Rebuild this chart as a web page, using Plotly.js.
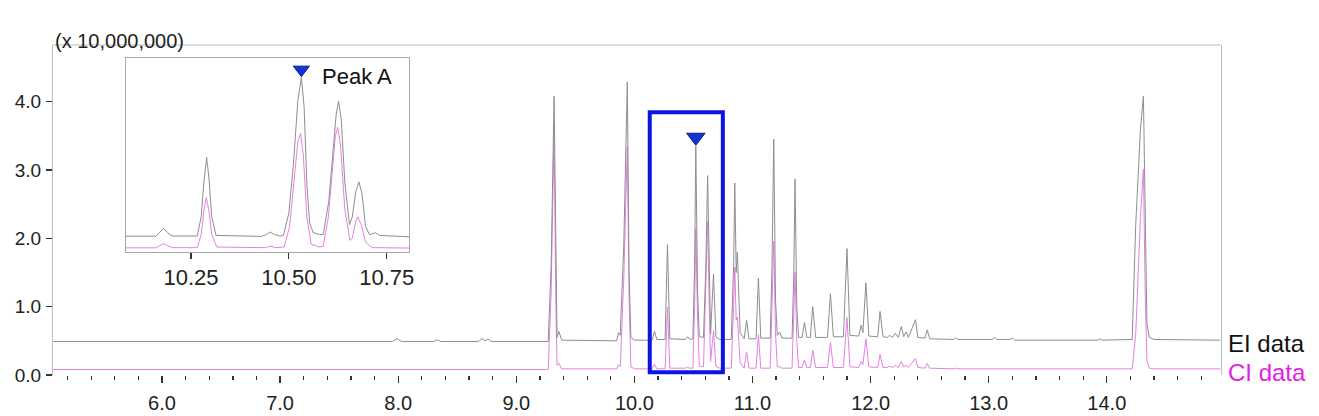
<!DOCTYPE html>
<html>
<head>
<meta charset="utf-8">
<script src="https://cdn.plot.ly/plotly-3.0.1.min.js"></script>
<style>html,body{margin:0;padding:0;background:#fff;}#chart{width:1319px;height:416px;}</style>
</head>
<body>
<div id="chart"></div>
<script>
// ---------- main chromatogram (retention time, min; intensity x 10,000,000) ----------
var rt = [5.08,7.95,7.99,8.03,8.30,8.33,8.36,8.68,8.71,8.735,8.76,8.79,
  9.27,9.295,9.32,9.335,9.345,9.36,9.385,
  9.85,9.865,9.88,9.91,9.94,9.955,9.97,10.00,
  10.15,10.17,10.19,10.26,10.28,10.30,10.43,10.45,10.47,
  10.495,10.51,10.52,10.535,10.55,10.585,10.605,10.62,10.635,10.645,10.67,10.69,10.72,
  10.82,10.84,10.85,10.862,10.872,10.895,10.93,10.95,10.97,
  11.03,11.05,11.07,11.15,11.165,11.18,11.195,11.21,11.23,11.25,
  11.335,11.35,11.36,11.375,11.39,11.42,11.44,11.46,11.49,11.51,11.535,
  11.635,11.66,11.685,11.77,11.80,11.825,11.90,11.92,11.935,11.96,11.985,
  12.06,12.08,12.105,12.14,12.16,12.185,12.21,12.235,12.26,12.28,12.30,12.32,
  12.38,12.40,12.46,12.48,12.50,12.70,12.72,12.74,13.03,13.05,13.07,13.18,13.20,13.22,
  13.92,13.94,13.96,14.215,14.245,14.27,14.285,14.31,14.325,14.34,14.36,14.40,14.96];
var eiData = [0.49,0.49,0.53,0.49,0.49,0.515,0.49,0.49,0.535,0.50,0.525,0.49,
  0.49,1.60,4.08,1.40,0.55,0.64,0.51,
  0.50,0.62,0.58,1.90,4.29,1.50,0.55,0.51,
  0.51,0.64,0.52,0.52,1.91,0.53,0.52,0.56,0.52,
  0.53,1.60,3.35,1.20,0.56,0.55,1.60,2.92,1.20,0.60,1.48,0.56,0.52,
  0.52,1.60,2.81,1.50,1.80,0.62,0.53,0.80,0.53,
  0.53,1.42,0.54,0.54,1.60,3.45,1.10,0.58,0.63,0.54,
  0.54,1.50,2.87,1.00,0.55,0.55,0.77,0.55,0.55,1.00,0.55,
  0.55,1.19,0.56,0.56,1.85,0.58,0.57,0.73,0.62,1.35,0.57,
  0.56,0.93,0.56,0.55,0.58,0.55,0.61,0.55,0.71,0.56,0.63,0.55,
  0.81,0.55,0.54,0.66,0.53,0.52,0.545,0.52,0.52,0.55,0.52,0.52,0.545,0.51,
  0.51,0.53,0.51,0.52,2.20,3.10,3.60,4.08,2.00,0.75,0.55,0.52,0.51];
var ciData = [0.08,0.08,0.085,0.08,0.08,0.08,0.08,0.08,0.09,0.08,0.085,0.08,
  0.08,1.20,3.56,1.00,0.14,0.17,0.09,
  0.09,0.15,0.12,1.40,3.35,1.10,0.12,0.09,
  0.09,0.16,0.09,0.09,0.99,0.10,0.10,0.11,0.10,
  0.10,1.00,2.14,0.80,0.13,0.12,1.30,2.24,0.90,0.20,0.65,0.13,0.10,
  0.10,1.00,1.58,0.80,0.85,0.18,0.10,0.34,0.10,
  0.10,0.59,0.10,0.10,1.00,1.96,0.60,0.12,0.12,0.10,
  0.10,0.90,1.51,0.50,0.11,0.11,0.22,0.11,0.11,0.36,0.11,
  0.11,0.48,0.11,0.11,0.84,0.12,0.11,0.20,0.15,0.53,0.12,
  0.11,0.30,0.11,0.11,0.13,0.11,0.14,0.11,0.20,0.12,0.14,0.11,
  0.24,0.11,0.10,0.17,0.10,0.09,0.10,0.09,0.09,0.10,0.09,0.09,0.10,0.09,
  0.09,0.09,0.09,0.09,0.60,1.58,2.30,3.01,1.20,0.20,0.10,0.09,0.09];

// ---------- inset (zoom of 10.08 - 10.81 min; relative intensity) ----------
var insetRtEI = [10.084,10.160,10.170,10.180,10.190,10.202,10.266,10.276,10.283,10.290,10.296,10.303,10.314,
  10.430,10.443,10.453,10.463,10.478,10.486,10.500,10.512,10.523,10.532,10.539,10.546,10.553,10.562,10.578,
  10.588,10.602,10.613,10.621,10.627,10.634,10.643,10.655,10.662,10.671,10.679,10.687,10.696,10.706,
  10.712,10.721,10.732,10.807];
var insetEI = [0.081,0.081,0.10,0.121,0.10,0.082,0.082,0.18,0.36,0.487,0.38,0.18,0.085,
  0.080,0.090,0.102,0.090,0.082,0.085,0.20,0.46,0.78,0.900,0.75,0.35,0.15,0.10,0.09,
  0.09,0.26,0.52,0.71,0.778,0.68,0.36,0.14,0.18,0.31,0.361,0.30,0.13,0.09,
  0.092,0.099,0.085,0.078];
var insetRtCI = [10.084,10.160,10.170,10.180,10.190,10.202,10.266,10.276,10.283,10.289,10.296,10.303,10.316,
  10.440,10.453,10.466,10.488,10.502,10.513,10.523,10.530,10.537,10.546,10.557,10.578,
  10.588,10.601,10.611,10.619,10.625,10.632,10.643,10.656,10.662,10.670,10.676,10.685,10.696,10.712,10.807];
var insetCI = [0.021,0.021,0.032,0.043,0.032,0.022,0.022,0.09,0.21,0.281,0.21,0.09,0.025,
  0.022,0.030,0.022,0.025,0.13,0.36,0.57,0.611,0.50,0.18,0.04,0.025,
  0.03,0.18,0.43,0.60,0.642,0.55,0.22,0.06,0.07,0.15,0.181,0.14,0.05,0.022,0.020];

// ---------- Peak A marker, labels ----------
var peakLabel = ["Peak A"];
var peakMainRt = [10.52], peakMainY = [3.48];
var peakInsetRt = [10.532], peakInsetY = [0.94];
var seriesNames = ["EI data", "CI data"];
var xTicks = [6.0, 7.0, 8.0, 9.0, 10.0, 11.0, 12.0, 13.0, 14.0];
var yTicks = [0.0, 1.0, 2.0, 3.0, 4.0];
var insetTicks = [10.25, 10.50, 10.75];
var scaleLabel = "(x 10,000,000)";

var FONT = "Liberation Sans, Arial, sans-serif";
var EI_COLOR = "#8e8e8e", CI_COLOR = "#e580e5", MARK = "#1234d4";

var traces = [
  {x: rt, y: ciData, type: "scatter", mode: "lines", name: seriesNames[1], line: {color: CI_COLOR, width: 1}, hoverinfo: "skip"},
  {x: rt, y: eiData, type: "scatter", mode: "lines", name: seriesNames[0], line: {color: EI_COLOR, width: 1}, hoverinfo: "skip"},
  {x: peakMainRt, y: peakMainY, type: "scatter", mode: "markers",
   marker: {symbol: "triangle-down", size: 16, color: MARK, line: {color: "#0a1f8c", width: 1}}},
  {x: insetRtCI, y: insetCI, xaxis: "x2", yaxis: "y2", type: "scatter", mode: "lines", line: {color: CI_COLOR, width: 1}},
  {x: insetRtEI, y: insetEI, xaxis: "x2", yaxis: "y2", type: "scatter", mode: "lines", line: {color: EI_COLOR, width: 1}},
  {x: peakInsetRt, y: peakInsetY, xaxis: "x2", yaxis: "y2", type: "scatter", mode: "markers",
   marker: {symbol: "triangle-down", size: 14, color: MARK, line: {color: "#0a1f8c", width: 1}}}
];

var layout = {
  width: 1319, height: 416,
  margin: {l: 53, r: 98, t: 45, b: 41, pad: 0},
  paper_bgcolor: "#fff", plot_bgcolor: "#fff",
  showlegend: false,
  font: {family: FONT, color: "#222"},
  xaxis: {
    range: [5.077, 14.967], tickvals: xTicks, ticktext: xTicks.map(function(v){return v.toFixed(1);}),
    ticks: "outside", ticklen: 7, tickwidth: 1.3, tickcolor: "#333",
    minor: {dtick: 0.2, tick0: 0, ticks: "outside", ticklen: 4, tickwidth: 1.3, tickcolor: "#333"},
    showgrid: false, zeroline: false, showline: false,
    tickfont: {family: FONT, size: 20, color: "#222"}, ticklabelstandoff: 3
  },
  yaxis: {
    range: [0, 4.83], tickvals: yTicks, ticktext: yTicks.map(function(v){return v.toFixed(1);}),
    ticks: "outside", ticklen: 6, tickwidth: 1.3, tickcolor: "#333",
    showgrid: false, zeroline: false, showline: true, linecolor: "#bdbdbd", linewidth: 1, mirror: true,
    tickfont: {family: FONT, size: 19, color: "#222"}, ticklabelstandoff: 1
  },
  xaxis2: {
    domain: [0.0625, 0.3048], anchor: "y2", range: [10.084, 10.807],
    tickvals: insetTicks, ticktext: insetTicks.map(function(v){return v.toFixed(2);}),
    ticks: "outside", ticklen: 6, tickwidth: 1.3, tickcolor: "#333",
    showgrid: false, zeroline: false, showline: true, linecolor: "#aaaaaa", linewidth: 1, mirror: true,
    tickfont: {family: FONT, size: 22, color: "#222"}
  },
  yaxis2: {
    domain: [0.373, 0.9606], anchor: "x2", range: [0, 1],
    showticklabels: false, ticks: "", showgrid: false, zeroline: false,
    showline: true, linecolor: "#aaaaaa", linewidth: 1, mirror: true
  },
  shapes: [
    {type: "line", xref: "paper", yref: "paper", x0: 0, x1: 1, y0: 1, y1: 1, line: {color: "#bdbdbd", width: 1}},
    {type: "rect", xref: "x", yref: "y", x0: 10.130, x1: 10.749, y0: 0.04, y1: 3.845, line: {color: "#0b14e0", width: 4}}
  ],
  annotations: [
    {xref: "paper", yref: "paper", x: 0, y: 1.012, xanchor: "left", yanchor: "middle", showarrow: false,
     text: scaleLabel, font: {family: FONT, size: 20, color: "#222"}},
    {xref: "x2", yref: "y2", x: 10.580, y: 0.903, xanchor: "left", yanchor: "middle", showarrow: false,
     text: peakLabel[0], font: {family: FONT, size: 22, color: "#111"}},
    {xref: "paper", yref: "y", x: 1, xshift: 5, y: 0.46, xanchor: "left", yanchor: "middle", showarrow: false,
     text: seriesNames[0], font: {family: FONT, size: 24, color: "#111"}},
    {xref: "paper", yref: "y", x: 1, xshift: 5, y: 0.03, xanchor: "left", yanchor: "middle", showarrow: false,
     text: seriesNames[1], font: {family: FONT, size: 24, color: "#e31ee3"}}
  ]
};

Plotly.newPlot("chart", traces, layout, {staticPlot: true, displayModeBar: false});
</script>
</body>
</html>
